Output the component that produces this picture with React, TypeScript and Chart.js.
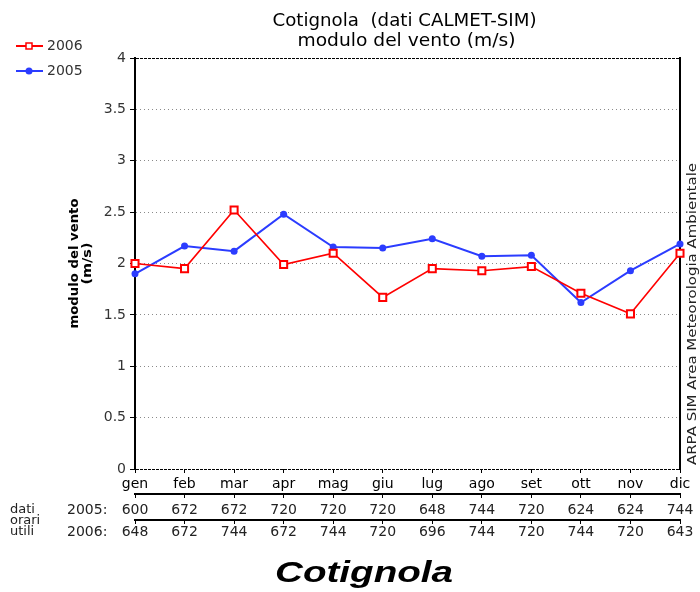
import React, { useEffect, useRef } from "react";
import { Chart, registerables } from "chart.js";

Chart.register(...registerables);

const months = ["gen", "feb", "mar", "apr", "mag", "giu", "lug", "ago", "set", "ott", "nov", "dic"];
const wind2006 = [2.0, 1.95, 2.52, 1.99, 2.1, 1.67, 1.95, 1.93, 1.97, 1.71, 1.51, 2.1];
const wind2005 = [1.9, 2.17, 2.12, 2.48, 2.16, 2.15, 2.24, 2.07, 2.08, 1.62, 1.93, 2.19];
const hours2005 = ["600", "672", "672", "720", "720", "720", "648", "744", "720", "624", "624", "744"];
const hours2006 = ["648", "672", "744", "672", "744", "720", "696", "744", "720", "744", "720", "643"];
const seriesNames = ["2006", "2005"];
const titleLines = ["Cotignola  (dati CALMET-SIM)", "modulo del vento (m/s)"];
const yTitleLines = ["modulo del vento", "(m/s)"];
const rowTitles = ["2005:", "2006:"];
const sideLabels = ["dati", "orari", "utili"];
const sourceText = "ARPA SIM Area Meteorologia Ambientale";
const stationName = "Cotignola";

const RED = "#ff0000";
const BLUE = "#2b3cff";
const FONT = '"DejaVu Sans", "Liberation Sans", sans-serif';

function fitText(
  ctx: CanvasRenderingContext2D,
  text: string,
  x: number,
  y: number,
  width: number,
  font: string,
  color: string,
  align: CanvasTextAlign = "center",
  rotate = 0
) {
  ctx.save();
  ctx.font = font;
  const w = ctx.measureText(text).width;
  ctx.translate(x, y);
  if (rotate) ctx.rotate(rotate);
  if (width > 0) ctx.scale(width / w, 1);
  ctx.fillStyle = color;
  ctx.textAlign = align;
  ctx.textBaseline = "middle";
  ctx.fillText(text, 0, 0);
  ctx.restore();
}

const decorPlugin = {
  id: "decor",
  afterDraw(chart: any) {
    const ctx: CanvasRenderingContext2D = chart.ctx;
    const area = chart.chartArea;
    const cx = (area.left + area.right) / 2;
    const cy = (area.top + area.bottom) / 2;
    // title
    fitText(ctx, titleLines[0], cx - 3, 22, 264, `17px ${FONT}`, "#000");
    fitText(ctx, titleLines[1], cx - 1, 42, 218, `17px ${FONT}`, "#000");
    // y title
    fitText(ctx, yTitleLines[0], 75, cy, 130, `bold 12px ${FONT}`, "#000", "center", -Math.PI / 2);
    fitText(ctx, yTitleLines[1], 88, cy, 42, `bold 12px ${FONT}`, "#000", "center", -Math.PI / 2);
    // side source text
    fitText(ctx, sourceText, 693, 314, 302, `12px ${FONT}`, "#222", "center", -Math.PI / 2);
    // legend
    const legendY = [46, 71];
    chart.data.datasets.forEach((ds: any, i: number) => {
      const y = legendY[i];
      ctx.save();
      ctx.strokeStyle = ds.borderColor;
      ctx.lineWidth = 2;
      ctx.beginPath();
      ctx.moveTo(16, y);
      ctx.lineTo(43, y);
      ctx.stroke();
      if (ds.pointStyle === "rect") {
        ctx.fillStyle = "#fff";
        ctx.fillRect(26, y - 3, 6, 6);
        ctx.lineWidth = 1.5;
        ctx.strokeRect(26, y - 3, 6, 6);
      } else {
        ctx.fillStyle = ds.borderColor;
        ctx.beginPath();
        ctx.arc(29, y, 3.5, 0, Math.PI * 2);
        ctx.fill();
      }
      ctx.restore();
      fitText(ctx, seriesNames[i], 47, y, 0, `14px ${FONT}`, "#333", "left");
    });
    // table row labels
    fitText(ctx, rowTitles[0], 67, 510, 0, `14px ${FONT}`, "#222", "left");
    fitText(ctx, rowTitles[1], 67, 532, 0, `14px ${FONT}`, "#222", "left");
    fitText(ctx, sideLabels[0], 10, 510, 0, `13px ${FONT}`, "#222", "left");
    fitText(ctx, sideLabels[1], 10, 521, 0, `13px ${FONT}`, "#222", "left");
    fitText(ctx, sideLabels[2], 10, 532, 0, `13px ${FONT}`, "#222", "left");
    // station name
    fitText(ctx, stationName, 364, 574, 178, `italic bold 30px "Liberation Sans", Arial, sans-serif`, "#000");
  },
};

export default function App() {
  const ref = useRef<HTMLCanvasElement | null>(null);
  useEffect(() => {
    if (!ref.current) return;
    const tickFont = { family: FONT, size: 14, lineHeight: 1 };
    const chart = new Chart(ref.current, {
      type: "line",
      data: {
        labels: months,
        datasets: [
          {
            label: seriesNames[0],
            data: wind2006,
            borderColor: RED,
            backgroundColor: "#ffffff",
            borderWidth: 1.6,
            pointStyle: "rect",
            pointRadius: 5,
            pointBorderWidth: 2,
            pointBackgroundColor: "#ffffff",
            pointBorderColor: RED,
            xAxisID: "x",
            yAxisID: "y",
          },
          {
            label: seriesNames[1],
            data: wind2005,
            borderColor: BLUE,
            backgroundColor: BLUE,
            borderWidth: 2,
            pointStyle: "circle",
            pointRadius: 3.5,
            pointBorderWidth: 0,
            pointBackgroundColor: BLUE,
            xAxisID: "x",
            yAxisID: "y",
          },
        ],
      },
      options: {
        animation: false,
        responsive: false,
        devicePixelRatio: 1,
        layout: { padding: { left: 0, top: 58, right: 20, bottom: 50 } },
        plugins: { legend: { display: false }, title: { display: false }, tooltip: { enabled: false } },
        scales: {
          x: {
            type: "category",
            position: "bottom",
            weight: 0,
            offset: false,
            afterFit: (s: any) => { s.height = 25; },
            grid: { drawOnChartArea: false, tickLength: 4, tickColor: "#000", color: "#000" },
            border: { display: false },
            ticks: { color: "#000", font: tickFont, padding: 4, autoSkip: false, maxRotation: 0 },
          },
          x2: {
            type: "category",
            position: "bottom",
            weight: 1,
            offset: false,
            labels: hours2005,
            afterFit: (s: any) => { s.height = 26; },
            grid: { drawOnChartArea: false, tickLength: 4, tickColor: "#000", color: "#000" },
            border: { display: true, color: "#000", width: 2 },
            ticks: { color: "#222", font: tickFont, padding: 5, autoSkip: false, maxRotation: 0 },
          },
          x3: {
            type: "category",
            position: "bottom",
            weight: 2,
            offset: false,
            labels: hours2006,
            afterFit: (s: any) => { s.height = 22; },
            grid: { drawOnChartArea: false, tickLength: 4, tickColor: "#000", color: "#000" },
            border: { display: true, color: "#000", width: 2 },
            ticks: { color: "#222", font: tickFont, padding: 1, autoSkip: false, maxRotation: 0 },
          },
          y: {
            type: "linear",
            position: "left",
            min: 0,
            max: 4,
            afterFit: (s: any) => { s.width = 135; },
            grid: {
              color: (c: any) => (c.tick && (c.tick.value === 0 || c.tick.value === 4) ? "#000" : "#8a8a8a"),
              lineWidth: 1,
              tickColor: "#000",
              tickLength: 5,
              tickWidth: 1,
            },
            border: {
              display: true,
              color: "#000",
              width: 2,
              dash: (c: any) => (c.tick && (c.tick.value === 0 || c.tick.value === 4) ? [3, 1] : [1, 3]),
            },
            ticks: {
              stepSize: 0.5,
              color: "#333",
              font: tickFont,
              padding: 4,
              callback: (v: any) => String(Math.round(Number(v) * 10) / 10),
            },
          },
          yR: {
            type: "linear",
            position: "right",
            min: 0,
            max: 4,
            afterFit: (s: any) => { s.width = 0; },
            grid: { display: false },
            border: { display: true, color: "#000", width: 2 },
            ticks: { display: false },
          },
        },
      } as any,
      plugins: [decorPlugin],
    });
    return () => chart.destroy();
  }, []);
  return (
    <div style={{ position: "fixed", left: 0, top: 0, width: 700, height: 592, background: "#fff" }}>
      <canvas ref={ref} width={700} height={592} style={{ width: 700, height: 592, display: "block" }} />
    </div>
  );
}
